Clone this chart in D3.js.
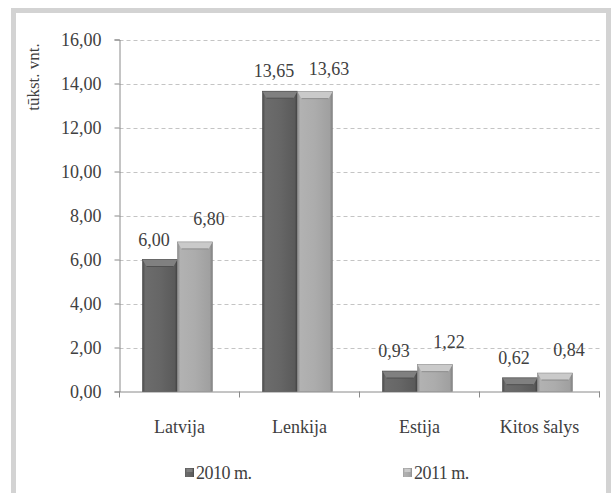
<!DOCTYPE html>
<html><head><meta charset="utf-8">
<script src="https://cdn.jsdelivr.net/npm/d3@7"></script>
<style>body{margin:0;background:#fff}svg{display:block}svg text{font-family:"Liberation Serif","DejaVu Serif",serif !important;fill:#404040}</style>
</head><body>
<script>
const categories = ["Latvija", "Lenkija", "Estija", "Kitos šalys"];
const seriesNames = ["2010 m.", "2011 m."];
const values2010 = [6.00, 13.65, 0.93, 0.62];
const values2011 = [6.80, 13.63, 1.22, 0.84];
const yTicks = [0, 2, 4, 6, 8, 10, 12, 14, 16];
const yTitle = "tūkst. vnt.";

const W = 613, H = 493;
const FONT = "'Liberation Serif', 'DejaVu Serif', serif";
const svg = d3.select("body").append("svg").attr("width", W).attr("height", H)
  .style("font-family", FONT);

// frame
svg.append("rect").attr("x", 13.5).attr("y", 10.5).attr("width", 595).attr("height", 500)
  .attr("fill", "#fff").attr("stroke", "#d3d3d3").attr("stroke-width", 5);

const fmt = v => d3.format(".2f")(v).replace(".", ",");
const plot = {l: 119.5, r: 599.5, t: 39.5, b: 391.5};
const y = d3.scaleLinear().domain([0, 16]).range([plot.b, plot.t]);
const x = d3.scaleBand().domain(categories).range([plot.l, plot.r]);
const xs = d3.scaleBand().domain(seriesNames).range([0, 70]);

const defs = svg.append("defs");
function grad(id, stops) {
  const g = defs.append("linearGradient").attr("id", id).attr("x1", 0).attr("x2", 1).attr("y1", 0).attr("y2", 0);
  stops.forEach(s => g.append("stop").attr("offset", s[0]).attr("stop-color", s[1]));
}
grad("g0", [[0, "#4a4a4a"], [0.08, "#6c6c6c"], [0.5, "#666666"], [0.92, "#5a5a5a"], [1, "#3e3e3e"]]);
grad("g1", [[0, "#8a8a8a"], [0.08, "#b2b2b2"], [0.5, "#acacac"], [0.92, "#a0a0a0"], [1, "#7e7e7e"]]);
const topCol = ["#808080", "#cacaca"];
const topEdge = ["#505050", "#8c8c8c"];

// gridlines
svg.append("g").selectAll("line").data(yTicks.filter(d => d > 0)).join("line")
  .attr("x1", plot.l).attr("x2", plot.r).attr("y1", d => Math.round(y(d)) + 0.5).attr("y2", d => Math.round(y(d)) + 0.5)
  .attr("stroke", "#c4c4c4").attr("stroke-dasharray", "4,3");

// y axis
const ya = svg.append("g").attr("transform", `translate(${plot.l},0)`)
  .call(d3.axisLeft(y).tickValues(yTicks).tickFormat(fmt).tickSize(5).tickPadding(13));
ya.attr("font-family", null);
ya.select(".domain").attr("stroke", "#8a8a8a");
ya.selectAll(".tick line").attr("stroke", "#8a8a8a");
ya.selectAll(".tick text").attr("font-size", 18).style("font-family", FONT).style("fill", "#404040");

// x axis
const xa = svg.append("g").attr("transform", `translate(0,${plot.b})`)
  .call(d3.axisBottom(x).tickSize(0).tickPadding(29));
xa.attr("font-family", null);
xa.select(".domain").attr("stroke", "#8a8a8a");
xa.selectAll(".tick text").attr("font-size", 18).style("font-family", FONT).style("fill", "#404040");
// category separators
svg.append("g").selectAll("line").data(categories.concat(["__end"])).join("line")
  .attr("x1", (d, i) => i < categories.length ? x(d) : plot.r).attr("x2", (d, i) => i < categories.length ? x(d) : plot.r)
  .attr("y1", plot.b).attr("y2", plot.b + 6).attr("stroke", "#8a8a8a");

// bars
const rows = [];
categories.forEach((c, i) => {
  rows.push({c, s: 0, v: values2010[i]});
  rows.push({c, s: 1, v: values2011[i]});
});
const bx = d => x(d.c) + x.bandwidth() / 2 - 37 + xs(seriesNames[d.s]);
const bw = xs.bandwidth();
const bars = svg.append("g");
rows.forEach(d => {
  const x0 = bx(d), yt = y(d.v), h = plot.b - yt;
  bars.append("rect").attr("x", x0).attr("y", yt).attr("width", bw).attr("height", h)
    .attr("fill", `url(#g${d.s})`);
  const bev = Math.min(7, h / 2);
  bars.append("polygon")
    .attr("points", [[x0, yt], [x0 + bw, yt], [x0 + bw - 4, yt + bev], [x0 + 4, yt + bev]].join(" "))
    .attr("fill", topCol[d.s]);
  bars.append("line").attr("x1", x0 + 4).attr("x2", x0 + bw - 4).attr("y1", yt + bev).attr("y2", yt + bev)
    .attr("stroke", topEdge[d.s]).attr("stroke-width", 1);
  bars.append("rect").attr("x", x0).attr("y", yt).attr("width", bw).attr("height", h)
    .attr("fill", "none").attr("stroke", d.s ? "#8a8a8a" : "#4a4a4a").attr("stroke-width", 0.6);
});

// value labels
const dxs = [-6, 14], dys = [-14, -17];
svg.append("g").selectAll("text").data(rows).join("text")
  .attr("x", d => bx(d) + bw / 2 + dxs[d.s])
  .attr("y", d => y(d.v) + dys[d.s])
  .attr("text-anchor", "middle").attr("font-size", 18).style("font-family", FONT).text(d => fmt(d.v));

// y title
svg.append("text").attr("transform", "translate(39,77) rotate(-90)").attr("text-anchor", "middle")
  .attr("font-size", 17).style("font-family", FONT).text(yTitle);

// legend
const leg = [{x: 185, s: 0}, {x: 403, s: 1}];
leg.forEach(l => {
  svg.append("rect").attr("x", l.x).attr("y", 468).attr("width", 9).attr("height", 9)
    .attr("fill", `url(#g${l.s})`);
  svg.append("rect").attr("x", l.x + 1.5).attr("y", 469).attr("width", 6).attr("height", 3)
    .attr("fill", topCol[l.s]);
  svg.append("text").attr("x", l.x + 11).attr("y", 479).attr("font-size", 18)
    .attr("letter-spacing", -0.5).style("font-family", FONT).text(seriesNames[l.s]);
});
</script>
</body></html>
